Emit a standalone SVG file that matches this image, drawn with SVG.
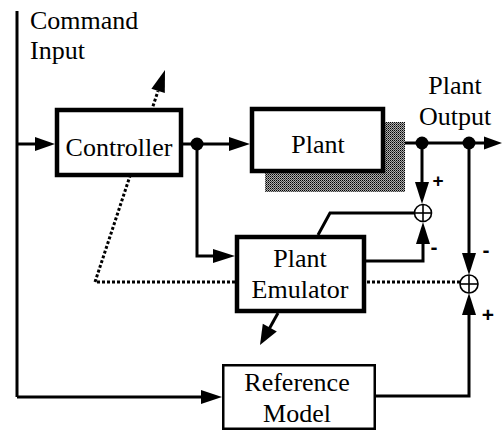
<svg xmlns="http://www.w3.org/2000/svg" width="502" height="431" viewBox="0 0 502 431">
<defs>
<pattern id="stip" width="2" height="2" patternUnits="userSpaceOnUse">
<rect width="2" height="2" fill="#b0b0b0"/>
<rect x="0" y="0" width="1" height="1" fill="#000"/>
<rect x="1" y="1" width="1" height="1" fill="#444"/>
</pattern>
</defs>
<style>
.lbl{font-family:"Liberation Serif","Times New Roman",serif;font-size:26px;fill:#000}
.sign{font-family:"Liberation Sans",Arial,sans-serif;font-weight:bold;fill:#000}
.box{fill:#fff;stroke:#000;stroke-width:4.5}
.thin{fill:#fff;stroke:#000;stroke-width:2.5}
.ln{fill:none;stroke:#000;stroke-width:3}
.dot{fill:none;stroke:#000;stroke-width:3;stroke-dasharray:3 2}
.ah{fill:#000;stroke:none}
.sum{fill:#fff;stroke:#000;stroke-width:1.6}
</style>
<g id="connectors">
<line class="ln" x1="17" y1="11" x2="17" y2="397"/>
<line class="ln" x1="17" y1="144" x2="40" y2="144"/>
<polygon class="ah" points="55,144 35,137 35,151"/>
<line class="ln" x1="183" y1="144" x2="232" y2="144"/>
<polygon class="ah" points="250,144 229,137 229,151"/>
<circle class="ah" cx="197" cy="144" r="6.5"/>
<polyline class="ln" points="197,144 197,256 216,256"/>
<polygon class="ah" points="235,256 213,249 213,263"/>
<line class="ln" x1="385" y1="143" x2="488" y2="143"/>
<polygon class="ah" points="502,143 484,136.5 484,149.5"/>
<circle class="ah" cx="422" cy="143" r="6.5"/>
<circle class="ah" cx="469" cy="143" r="6.5"/>
<line class="ln" x1="422" y1="143" x2="422" y2="186"/>
<polygon class="ah" points="422,204 415,182 429,182"/>
<polyline class="ln" points="414,213 330,213 318,235"/>
<polyline class="ln" points="366,261 423,261 423,240"/>
<polygon class="ah" points="423,222 416,244 430,244"/>
<line class="ln" x1="469" y1="143" x2="469" y2="258"/>
<polygon class="ah" points="469,275 462,253 476,253"/>
<line class="dot" x1="367" y1="282" x2="461" y2="282"/>
<polyline class="dot" points="235,282 95,282 158,91"/>
<polygon class="ah" points="165,70 164.8,93.1 151.4,88.7"/>
<line class="ln" x1="278" y1="313" x2="268" y2="331"/>
<polygon class="ah" points="260,345 276.8,331.5 262.8,323.7"/>
<line class="ln" x1="17" y1="397" x2="205" y2="397"/>
<polygon class="ah" points="222,397 201,390 201,404"/>
<polyline class="ln" points="376,396 469,396 469,310"/>
<polygon class="ah" points="469,293 462,315 476,315"/>
<text class="sign" x="438" y="187" font-size="19" text-anchor="middle">+</text>
<text class="sign" x="434" y="254" font-size="21" text-anchor="middle">-</text>
<text class="sign" x="486" y="257" font-size="21" text-anchor="middle">-</text>
<text class="sign" x="488" y="322" font-size="21" text-anchor="middle">+</text>
</g>
<g id="sum1">
<circle class="sum" cx="423" cy="213" r="8.5"/>
<line class="sum" x1="414.5" y1="213" x2="431.5" y2="213"/>
<line class="sum" x1="423" y1="204.5" x2="423" y2="221.5"/>
</g>
<g id="sum2">
<circle class="sum" cx="469" cy="284" r="9"/>
<line class="sum" x1="460" y1="284" x2="478" y2="284"/>
<line class="sum" x1="469" y1="275" x2="469" y2="293"/>
</g>
<g id="command-input">
<text class="lbl" x="30" y="29">Command</text>
<text class="lbl" x="30" y="59">Input</text>
</g>
<g id="plant-output">
<text class="lbl" x="455" y="94" text-anchor="middle">Plant</text>
<text class="lbl" x="455" y="125" text-anchor="middle">Output</text>
</g>
<g id="controller">
<rect class="box" x="57" y="110" width="124" height="65"/>
<text class="lbl" x="119" y="156" text-anchor="middle">Controller</text>
</g>
<g id="plant">
<rect x="265" y="122" width="140" height="70" fill="url(#stip)"/>
<rect class="box" x="252" y="109" width="131" height="62"/>
<text class="lbl" x="318" y="153" text-anchor="middle">Plant</text>
</g>
<g id="plant-emulator">
<rect class="box" x="237" y="237" width="127" height="74"/>
<text class="lbl" x="300" y="267" text-anchor="middle">Plant</text>
<text class="lbl" x="300" y="298" text-anchor="middle">Emulator</text>
</g>
<g id="reference-model">
<rect class="thin" x="223.25" y="365.25" width="151.5" height="63.5"/>
<text class="lbl" x="297" y="391" text-anchor="middle">Reference</text>
<text class="lbl" x="297" y="422" text-anchor="middle">Model</text>
</g>
</svg>
